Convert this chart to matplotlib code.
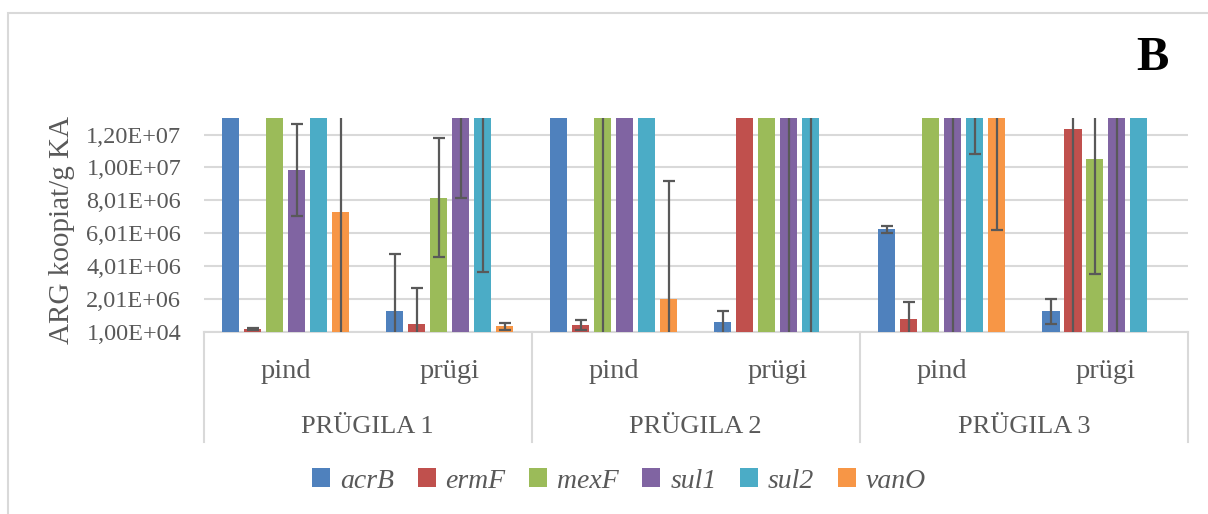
import matplotlib
matplotlib.use("Agg")
import matplotlib.pyplot as plt
import matplotlib.transforms as mtransforms
from matplotlib.patches import Rectangle
import numpy as np

# Sample sites and sample types
groups = ["PRÜGILA 1", "PRÜGILA 2", "PRÜGILA 3"]
sample_types = ["pind", "prügi"]
genes = ["acrB", "ermF", "mexF", "sul1", "sul2", "vanO"]

# Mean ARG copies per g (order: pind1, prügi1, pind2, prügi2, pind3, prügi3)
acrB = [2.0e7, 1.27e6, 2.2e7, 5.8e5, 6.25e6, 1.25e6]
ermF = [1.7e5, 5.0e5, 4.4e5, 2.4e7, 7.6e5, 1.234e7]
mexF = [2.5e7, 8.17e6, 1.6e7, 2.6e7, 2.7e7, 1.055e7]
sul1 = [9.86e6, 1.6e7, 2.3e7, 1.8e7, 1.9e7, 2.0e7]
sul2 = [3.0e7, 1.5e7, 2.8e7, 1.7e7, 1.6e7, 2.9e7]
vanO = [7.28e6, 3.4e5, 2.0e6, 0.0, 1.6e7, 0.0]

# Standard deviations
acrB_err = [3.0e6, 3.45e6, 4.0e6, 6.9e5, 2.0e5, 7.7e5]
ermF_err = [5.0e4, 2.2e6, 3.0e5, 5.0e6, 1.06e6, 1.5e7]
mexF_err = [4.0e6, 3.63e6, 1.7e7, 6.0e6, 5.0e6, 7.05e6]
sul1_err = [2.8e6, 7.83e6, 5.0e6, 1.9e7, 2.0e7, 2.1e7]
sul2_err = [6.0e6, 1.134e7, 5.0e6, 1.8e7, 5.17e6, 4.0e6]
vanO_err = [8.0e6, 2.3e5, 7.16e6, 0.0, 9.81e6, 0.0]

values = [acrB, ermF, mexF, sul1, sul2, vanO]
errors = [acrB_err, ermF_err, mexF_err, sul1_err, sul2_err, vanO_err]
colors = ["#4F81BD", "#C0504D", "#9BBB59", "#8064A2", "#4BACC6", "#F79646"]

y_min, y_max, y_step = 1.0e4, 1.3e7, 2.0e6

text_color = "#595959"
grid_color = "#D9D9D9"
serif = ["Liberation Serif", "DejaVu Serif"]
plt.rcParams["font.family"] = serif

W, H = 1208, 514
fig = plt.figure(figsize=(W / 100, H / 100), dpi=100)

# outer chart border
fig.patches.append(Rectangle((8 / W, -0.1), 1.2, 1 - 13 / H + 0.1,
                             transform=fig.transFigure, fill=False,
                             edgecolor=grid_color, linewidth=1.5))

left, right = 203.5 / W, 1188 / W
bottom = 1 - 331.7 / H
ax = fig.add_axes([left, bottom, right - left, 213.3 / H])

n_cat = len(groups) * len(sample_types)
x = np.arange(n_cat)
slot = 0.134
bar_w = 0.104
for j, (vals, errs, col, name) in enumerate(zip(values, errors, colors, genes)):
    xs = x + (j - (len(genes) - 1) / 2) * slot
    vals = np.asarray(vals)
    errs = np.asarray(errs)
    ax.bar(xs, vals, width=bar_w, color=col, label=name, zorder=2)
    has = vals > 0
    ax.errorbar(xs[has], vals[has], yerr=errs[has], fmt="none", ecolor="#595959",
                elinewidth=1.6, capsize=4.3, capthick=1.6, zorder=3)

ax.set_xlim(-0.5, n_cat - 0.5)
ax.set_ylim(y_min, y_max)
ticks = np.arange(y_min, y_max, y_step)
ax.set_yticks(ticks)
ax.set_yticklabels([f"{t:.2E}".replace(".", ",") for t in ticks])
ax.tick_params(axis="y", length=0, pad=16, labelsize=17.5, labelcolor=text_color)
ax.tick_params(axis="x", length=0, labelbottom=False)
ax.grid(axis="y", color=grid_color, linewidth=1.5, zorder=0)
for s in ["top", "right", "left"]:
    ax.spines[s].set_visible(False)
ax.spines["bottom"].set_color(grid_color)
ax.spines["bottom"].set_linewidth(1.5)
ax.spines["bottom"].set_zorder(1)

# multi-level category axis
trans = mtransforms.blended_transform_factory(ax.transData, fig.transFigure)
y_type = 1 - 372 / H
y_group = 1 - 427 / H
y_line_end = 1 - 442 / H
for i in range(n_cat):
    ax.text(x[i], y_type, sample_types[i % len(sample_types)], transform=trans,
            ha="center", va="center", fontsize=20.5, color=text_color, clip_on=False)
for g, name in enumerate(groups):
    cx = g * len(sample_types) + (len(sample_types) - 1) / 2
    ax.text(cx, y_group, name, transform=trans, ha="center", va="center",
            fontsize=19, color=text_color, clip_on=False)
for b in range(len(groups) + 1):
    xb = b * len(sample_types) - 0.5
    ax.plot([xb, xb], [bottom, y_line_end], transform=trans, color=grid_color,
            linewidth=1.5, clip_on=False)

fig.text(62 / W, 1 - 230 / H, "ARG koopiat/g KA", rotation=90, ha="center",
         va="center", fontsize=21, color=text_color)
fig.text(1152 / W, 1 - 58 / H, "B", ha="center", va="center", fontsize=35,
         fontweight="bold", color="black")

leg = fig.legend(loc="center", bbox_to_anchor=(619 / W, 1 - 481 / H), ncol=6,
                 frameon=False, handlelength=0.65, handleheight=0.65,
                 handletextpad=0.35, columnspacing=0.85,
                 prop={"family": serif, "style": "italic", "size": 20})
for t in leg.get_texts():
    t.set_color(text_color)

fig.savefig("out.png", dpi=100)
